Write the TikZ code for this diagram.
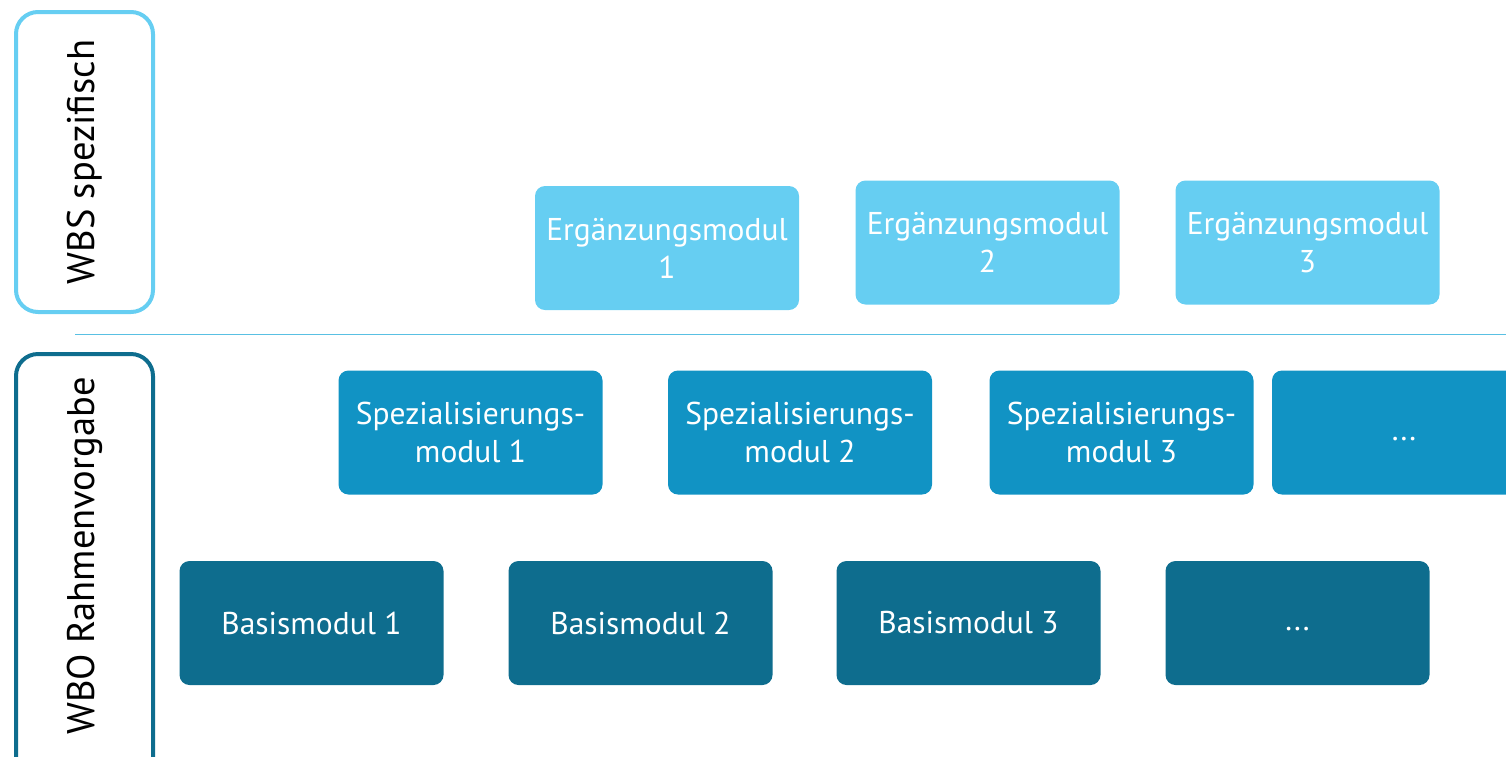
\documentclass[tikz,border=0pt]{standalone}
\usepackage{fontspec}
\setmainfont{PT Sans}
\definecolor{lightb}{HTML}{66CEF2}
\definecolor{midb}{HTML}{1193C4}
\definecolor{darkb}{HTML}{0E6D8E}
\tikzset{
  modbox/.style={rounded corners=10pt, minimum width=264pt, minimum height=124pt, inner sep=0pt,
    text=white, align=center, font=\fontsize{31.5}{38}\selectfont},
  lvlbox/.style={rounded corners=22pt, line width=4pt, fill=white},
  lvllabel/.style={rotate=90, font=\fontsize{38.5}{44}\selectfont, text=black}
}
\begin{document}
\begin{tikzpicture}[x=1pt,y=-1pt]
\useasboundingbox (0,0) rectangle (1506,756);
\clip (0,0) rectangle (1506,756);
% level boxes
\draw[lvlbox, draw=lightb] (16,12) rectangle (153,312);
\draw[lvlbox, draw=darkb] (16,354) rectangle (153,790);
\node[lvllabel] (wbs) at (85,162) {WBS spezifisch};
\node[lvllabel] (wbo) at (85,556) {WBO Rahmenvorgabe};
% separator
\coordinate (sepL) at (75,334);
\coordinate (sepR) at (1506,334);
\draw[lightb!85!darkb, line width=1pt] (sepL) -- (sepR);
% Ergaenzungsmodule
\node[modbox, fill=lightb] (e1) at (667,248) {Ergänzungsmodul\\1};
\node[modbox, fill=lightb] (e2) at (987.5,242.5) {Ergänzungsmodul\\2};
\node[modbox, fill=lightb] (e3) at (1307.5,242.5) {Ergänzungsmodul\\3};
% Spezialisierungsmodule
\node[modbox, fill=midb] (s1) at (470.5,432.5) {Spezialisierungs-\\modul 1};
\node[modbox, fill=midb] (s2) at (800,432.5) {Spezialisierungs-\\modul 2};
\node[modbox, fill=midb] (s3) at (1121.5,432.5) {Spezialisierungs-\\modul 3};
\node[modbox, fill=midb] (s4) at (1404,432.5) {\vphantom{Bg}...};
% Basismodule
\node[modbox, fill=darkb] (b1) at (311.5,623) {Basismodul 1};
\node[modbox, fill=darkb] (b2) at (640.5,623) {Basismodul 2};
\node[modbox, fill=darkb] (b3) at (968.5,623) {Basismodul 3};
\node[modbox, fill=darkb] (b4) at (1297.5,623) {\vphantom{Bg}...};
\end{tikzpicture}
\end{document}
